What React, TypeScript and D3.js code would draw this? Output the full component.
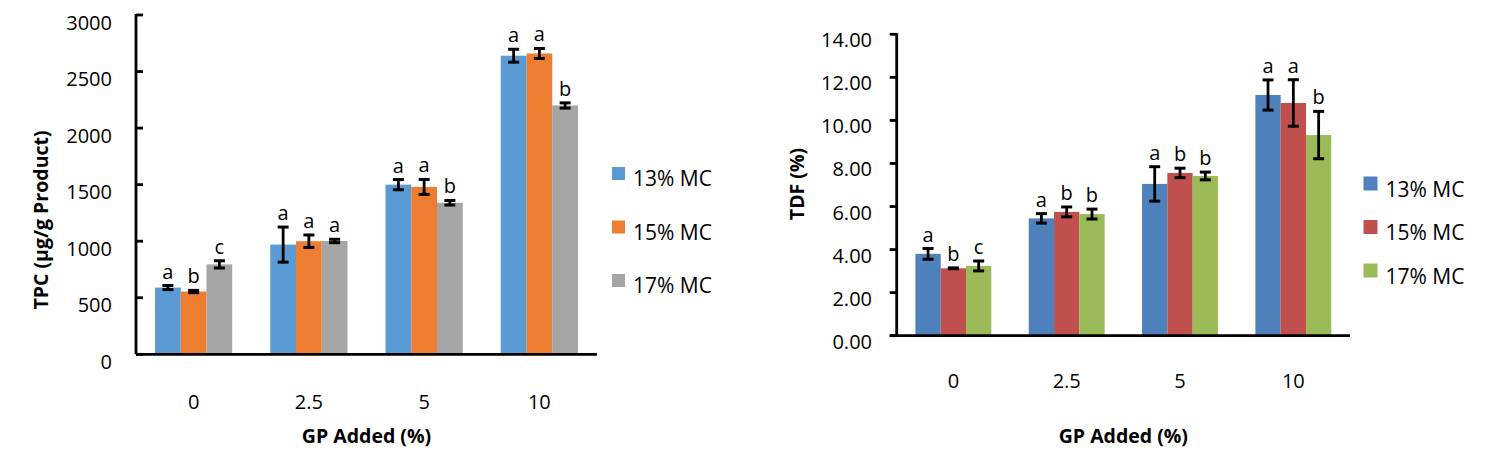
import React from "react";
import * as d3 from "d3";

const categories = ["0", "2.5", "5", "10"];
const seriesNames = ["13% MC", "15% MC", "17% MC"];

// Left chart: TPC (µg/g Product)
const tpc13 = [590, 970, 1500, 2640];
const tpc15 = [555, 1000, 1480, 2660];
const tpc17 = [795, 1002, 1340, 2200];
const tpc13Err = [18, 155, 45, 57];
const tpc15Err = [10, 55, 66, 44];
const tpc17Err = [32, 15, 20, 23];
const tpc13Letters = ["a", "a", "a", "a"];
const tpc15Letters = ["b", "a", "a", "a"];
const tpc17Letters = ["c", "a", "b", "b"];
const tpcTicks = [0, 500, 1000, 1500, 2000, 2500, 3000];

// Right chart: TDF (%)
const tdf13 = [3.8, 5.45, 7.05, 11.18];
const tdf15 = [3.13, 5.75, 7.56, 10.81];
const tdf17 = [3.24, 5.65, 7.42, 9.32];
const tdf13Err = [0.25, 0.22, 0.8, 0.7];
const tdf15Err = [0.02, 0.23, 0.22, 1.08];
const tdf17Err = [0.23, 0.23, 0.18, 1.1];
const tdf13Letters = ["a", "a", "a", "a"];
const tdf15Letters = ["b", "b", "b", "a"];
const tdf17Letters = ["c", "b", "b", "b"];
const tdfTicks = [0, 2, 4, 6, 8, 10, 12, 14];

const leftColors = ["#5B9BD5", "#ED7D31", "#A5A5A5"];
const rightColors = ["#4F81BD", "#C0504D", "#9BBB59"];

const FONT = "'Open Sans', 'Noto Sans', sans-serif";

type ChartProps = {
  values: number[][];
  errors: number[][];
  letters: string[][];
  colors: string[];
  ticks: number[];
  yMax: number;
  tickFmt: (v: number) => string;
  x0: number;
  x1: number;
  yTop: number;
  yBottom: number;
  ticksInside: boolean;
  tickLabelRight: number;
  tickLabelDy: number;
  xLabelY: number;
  xTitleY: number;
  yTitle: string;
  yTitleX: number;
  yTitleY: number;
  legendX: number;
  legendY0: number;
  legendStep: number;
  legendSize: number;
  legendFont: number;
  axisExtendLeft: number;
};

function BarChart(p: ChartProps) {
  const x = d3
    .scaleBand<string>()
    .domain(categories)
    .range([p.x0, p.x1])
    .paddingInner(0.33)
    .paddingOuter(0.165);
  const xs = d3
    .scaleBand<string>()
    .domain(seriesNames)
    .range([0, x.bandwidth()]);
  const y = d3.scaleLinear().domain([0, p.yMax]).range([p.yBottom, p.yTop]);
  const capW = 11;

  return (
    <g>
      {seriesNames.map((s, si) =>
        categories.map((c, ci) => {
          const v = p.values[si][ci];
          const bx = (x(c) as number) + (xs(s) as number);
          return (
            <rect
              key={`b-${si}-${ci}`}
              x={bx}
              y={y(v)}
              width={xs.bandwidth()}
              height={y(0) - y(v)}
              fill={p.colors[si]}
            />
          );
        })
      )}
      {seriesNames.map((s, si) =>
        categories.map((c, ci) => {
          const v = p.values[si][ci];
          const e = p.errors[si][ci];
          const cx = (x(c) as number) + (xs(s) as number) + xs.bandwidth() / 2;
          const yt = y(v + e);
          const yb = y(v - e);
          return (
            <g key={`e-${si}-${ci}`}>
              <line x1={cx} x2={cx} y1={yt} y2={yb} stroke="#000" strokeWidth={2.8} />
              <line x1={cx - capW / 2} x2={cx + capW / 2} y1={yt} y2={yt} stroke="#000" strokeWidth={3} />
              <line x1={cx - capW / 2} x2={cx + capW / 2} y1={yb} y2={yb} stroke="#000" strokeWidth={3} />
              <text
                x={cx}
                y={yt - 7}
                textAnchor="middle"
                fontFamily={FONT}
                fontSize={20}
                fill="#000"
              >
                {p.letters[si][ci]}
              </text>
            </g>
          );
        })
      )}
      <line x1={p.x0} x2={p.x0} y1={p.yTop - 1} y2={p.yBottom} stroke="#000" strokeWidth={2.8} />
      <line
        x1={p.x0 - p.axisExtendLeft}
        x2={p.x1}
        y1={p.yBottom}
        y2={p.yBottom}
        stroke="#000"
        strokeWidth={2.8}
      />
      {p.ticks.map((t) => (
        <g key={`t-${t}`}>
          <line
            x1={p.x0}
            x2={p.ticksInside ? p.x0 + 7 : p.x0 - 7}
            y1={y(t)}
            y2={y(t)}
            stroke="#000"
            strokeWidth={2.8}
          />
          <text
            x={p.tickLabelRight}
            y={y(t) + p.tickLabelDy}
            textAnchor="end"
            dominantBaseline="central"
            fontFamily={FONT}
            fontSize={20}
            fill="#000"
          >
            {p.tickFmt(t)}
          </text>
        </g>
      ))}
      {categories.map((c) => (
        <text
          key={`xl-${c}`}
          x={(x(c) as number) + x.bandwidth() / 2}
          y={p.xLabelY}
          textAnchor="middle"
          fontFamily={FONT}
          fontSize={20}
          fill="#000"
        >
          {c}
        </text>
      ))}
      <text
        x={(p.x0 + p.x1) / 2}
        y={p.xTitleY}
        textAnchor="middle"
        fontFamily={FONT}
        fontWeight="bold"
        fontSize={19.5}
        fill="#000"
      >
        GP Added (%)
      </text>
      <text
        transform={`translate(${p.yTitleX},${p.yTitleY}) rotate(-90)`}
        textAnchor="middle"
        dominantBaseline="central"
        fontFamily={FONT}
        fontWeight="bold"
        fontSize={19.5}
        fill="#000"
      >
        {p.yTitle}
      </text>
      {seriesNames.map((s, si) => {
        const ly = p.legendY0 + si * p.legendStep;
        return (
          <g key={`lg-${s}`}>
            <rect x={p.legendX} y={ly} width={p.legendSize} height={p.legendSize} fill={p.colors[si]} />
            <text
              x={p.legendX + p.legendSize + 8}
              y={ly + p.legendSize + 6}
              fontFamily={FONT}
              fontSize={p.legendFont}
              fill="#000"
            >
              {s}
            </text>
          </g>
        );
      })}
    </g>
  );
}

export default function App() {
  return (
    <svg
      width={1497}
      height={467}
      style={{ position: "absolute", left: 0, top: 0, background: "#fff" }}
    >
      <rect width={1497} height={467} fill="#fff" />
      <BarChart
        values={[tpc13, tpc15, tpc17]}
        errors={[tpc13Err, tpc15Err, tpc17Err]}
        letters={[tpc13Letters, tpc15Letters, tpc17Letters]}
        colors={leftColors}
        ticks={tpcTicks}
        yMax={3000}
        tickFmt={(v) => String(v)}
        x0={136}
        x1={597}
        yTop={15}
        yBottom={354.3}
        ticksInside={true}
        tickLabelRight={112}
        tickLabelDy={7}
        xLabelY={409}
        xTitleY={443}
        yTitle="TPC (µg/g Product)"
        yTitleX={40}
        yTitleY={220}
        legendX={612}
        legendY0={167}
        legendStep={53.5}
        legendSize={13}
        legendFont={21}
        axisExtendLeft={0}
      />
      <BarChart
        values={[tdf13, tdf15, tdf17]}
        errors={[tdf13Err, tdf15Err, tdf17Err]}
        letters={[tdf13Letters, tdf15Letters, tdf17Letters]}
        colors={rightColors}
        ticks={tdfTicks}
        yMax={14}
        tickFmt={(v) => v.toFixed(2)}
        x0={896.7}
        x1={1350}
        yTop={34.3}
        yBottom={335.7}
        ticksInside={false}
        tickLabelRight={872}
        tickLabelDy={5.5}
        xLabelY={387.5}
        xTitleY={443}
        yTitle="TDF (%)"
        yTitleX={796}
        yTitleY={184}
        legendX={1363.5}
        legendY0={176.5}
        legendStep={43.5}
        legendSize={14}
        legendFont={21}
        axisExtendLeft={7}
      />
    </svg>
  );
}
